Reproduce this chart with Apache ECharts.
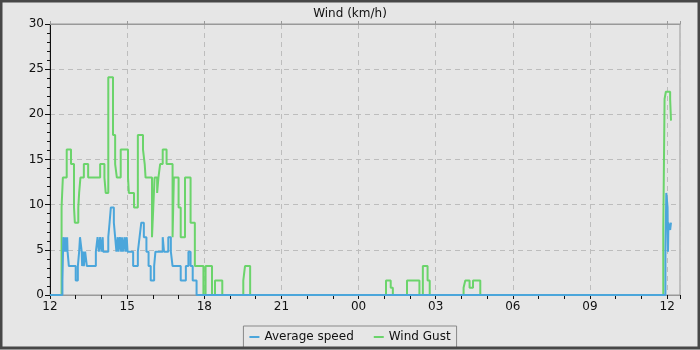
<!DOCTYPE html>
<html>
<head>
<meta charset="utf-8">
<script src="https://cdn.jsdelivr.net/npm/echarts@6/dist/echarts.min.js"></script>
<style>
html, body { margin: 0; padding: 0; background: #e6e6e6; }
#chart { width: 700px; height: 350px; }
</style>
</head>
<body>
<div id="chart"></div>
<script>
// 阵风 (km/h)
var gustTimes = ['12:00', '12:27', '12:30', '12:39', '12:49', '12:56', '12:58', '13:06', '13:08', '13:11',
	'13:19', '13:29', '13:57', '14:07', '14:10', '14:16', '14:27', '14:32', '14:36', '14:45',
	'15:02', '15:04', '15:16', '15:25', '15:37', '15:41', '15:43', '15:58', '16:01', '16:04',
	'16:10', '16:13', '16:17', '16:23', '16:32', '16:46', '16:49', '17:00', '17:05', '17:15',
	'17:28', '17:38', '17:58', '18:03', '18:18', '18:25', '18:42', '19:31', '19:35', '19:47',
	'01:04', '01:15', '01:20', '01:53', '02:22', '02:30', '02:41', '02:46', '04:05', '04:09',
	'04:19', '04:27', '04:44', '11:51', '11:54', '11:57', '12:07', '12:09', '12:10'];
var gustValues = [0, 9.7, 13.0, 16.1, 14.5, 9.7, 8.0, 9.7, 11.3, 13.0,
	14.5, 13.0, 14.5, 13.0, 11.3, 24.1, 17.7, 14.5, 13.0, 16.1,
	13.0, 11.3, 9.7, 17.7, 16.1, 14.5, 13.0, 6.4, 9.7, 13.0,
	11.3, 13.0, 14.5, 16.1, 14.5, 6.4, 13.0, 9.7, 6.4, 13.0,
	8.0, 3.2, 0, 3.2, 0, 1.6, 0, 1.6, 3.2, 0,
	1.6, 0.8, 0, 1.6, 0, 3.2, 1.6, 0, 0.8, 1.6,
	0.8, 1.6, 0, 7.2, 21.7, 22.5, 21.7, 19.3, 19.3];

// 平均风速 (km/h)
var avgTimes = ['12:00', '12:29', '12:31', '12:34', '12:36', '12:38', '12:40', '12:41', '12:44', '13:00',
	'13:05', '13:08', '13:10', '13:14', '13:15', '13:17', '13:19', '13:22', '13:26', '13:47',
	'13:51', '13:54', '13:57', '14:00', '14:03', '14:04', '14:16', '14:19', '14:22', '14:29',
	'14:32', '14:35', '14:38', '14:40', '14:43', '14:46', '14:48', '14:50', '14:54', '14:56',
	'14:59', '15:01', '15:14', '15:25', '15:29', '15:33', '15:39', '15:45', '15:50', '15:55',
	'16:03', '16:06', '16:23', '16:26', '16:36', '16:42', '16:46', '17:05', '17:17', '17:23',
	'17:28', '17:33', '17:42', '11:56', '11:58', '12:01', '12:02', '12:03', '12:07', '12:09',
	'12:10'];
var avgValues = [0, 1.6, 6.4, 4.8, 6.4, 4.8, 6.4, 4.8, 3.2, 1.6,
	3.2, 4.8, 6.4, 4.8, 3.2, 4.8, 3.2, 4.8, 3.2, 4.8,
	6.4, 4.8, 6.4, 4.8, 6.4, 4.8, 6.4, 8.0, 9.7, 8.0,
	6.4, 4.8, 6.4, 4.8, 6.4, 4.8, 6.4, 4.8, 6.4, 4.8,
	6.4, 4.8, 3.2, 4.8, 6.4, 8.0, 6.4, 4.8, 3.2, 1.6,
	3.2, 4.8, 6.4, 4.8, 6.4, 4.8, 3.2, 1.6, 3.2, 4.8,
	3.2, 1.6, 0, 4.8, 11.3, 9.7, 4.8, 8.0, 7.2, 8.0,
	8.0];

var seriesNames = ['Average speed', 'Wind Gust'];
var startHour = 12;

// 把 HH:MM 转成距开始的小时数，过了午夜就加一天
function toHours(times, values) {
	var out = [];
	var day = 0;
	var prev = -1;
	for (var i = 0; i < times.length; i++) {
		var p = times[i].split(':');
		var raw = parseInt(p[0], 10) + parseInt(p[1], 10) / 60;
		if (raw < prev) {
			day++;
		}
		prev = raw;
		out.push([raw - startHour + 24 * day, values[i]]);
	}
	return out;
}

function hourLabel(v) {
	var h = (startHour + Math.round(v)) % 24;
	return (h < 10 ? '0' : '') + h;
}

var chart = echarts.init(document.getElementById('chart'));
var font = 'DejaVu Sans';
var option = {
	animation : false,
	backgroundColor : '#e6e6e6',
	title : {
		text : 'Wind (km/h)',
		left : 'center',
		top : 3,
		textStyle : {
			fontFamily : font,
			fontSize : 12,
			fontWeight : 'normal',
			color : '#111'
		}
	},
	legend : {
		data : seriesNames,
		bottom : 2,
		left : 'center',
		icon : 'rect',
		itemWidth : 10,
		itemHeight : 2,
		itemGap : 20,
		padding : [5, 6, 5, 6],
		borderColor : '#888',
		borderWidth : 1,
		backgroundColor : '#e6e6e6',
		textStyle : {
			fontFamily : font,
			fontSize : 12,
			color : '#111'
		}
	},
	grid : {
		left : 50,
		right : 20,
		top : 24,
		bottom : 55,
		show : true,
		borderColor : '#999',
		borderWidth : 1
	},
	xAxis : [ {
		type : 'value',
		min : 0,
		max : 24.5,
		interval : 3,
		axisLine : {
			lineStyle : { color : '#999' }
		},
		axisTick : {
			length : 4,
			lineStyle : { color : '#111' }
		},
		minorTick : {
			show : true,
			splitNumber : 3,
			length : 4,
			lineStyle : { color : '#111' }
		},
		axisLabel : {
			fontFamily : font,
			fontSize : 12,
			color : '#111',
			margin : 6,
			showMaxLabel : false,
			formatter : hourLabel
		},
		splitLine : {
			show : true,
			lineStyle : { color : '#bdbdbd', type : [5, 4] }
		}
	}, {
		type : 'value',
		position : 'top',
		min : 0,
		max : 24.5,
		interval : 3,
		axisLine : { lineStyle : { color : '#999' } },
		axisTick : { length : 3, lineStyle : { color : '#999' } },
		axisLabel : { show : false },
		splitLine : { show : false }
	} ],
	yAxis : [ {
		type : 'value',
		min : 0,
		max : 30,
		interval : 5,
		axisLine : {
			show : true,
			lineStyle : { color : '#111' }
		},
		axisTick : {
			show : true,
			length : 5,
			lineStyle : { color : '#111' }
		},
		minorTick : {
			show : true,
			splitNumber : 5,
			length : 3,
			lineStyle : { color : '#111' }
		},
		axisLabel : {
			fontFamily : font,
			fontSize : 12,
			color : '#111',
			margin : 6
		},
		splitLine : {
			lineStyle : { color : '#bdbdbd', type : [5, 4] }
		}
	} ],
	graphic : [ {
		type : 'rect',
		silent : true,
		z : 100,
		shape : { x : 1, y : 1, width : 698, height : 347 },
		style : { fill : 'none', stroke : '#474747', lineWidth : 3 }
	} ],
	series : [ {
		name : 'Wind Gust',
		type : 'line',
		step : 'end',
		showSymbol : false,
		color : '#6bd46b',
		lineStyle : { width : 2 },
		data : toHours(gustTimes, gustValues),
		z : 2
	}, {
		name : 'Average speed',
		type : 'line',
		step : 'end',
		showSymbol : false,
		color : '#4ba6db',
		lineStyle : { width : 2 },
		data : toHours(avgTimes, avgValues),
		z : 3
	} ]
};
chart.setOption(option);
</script>
</body>
</html>
